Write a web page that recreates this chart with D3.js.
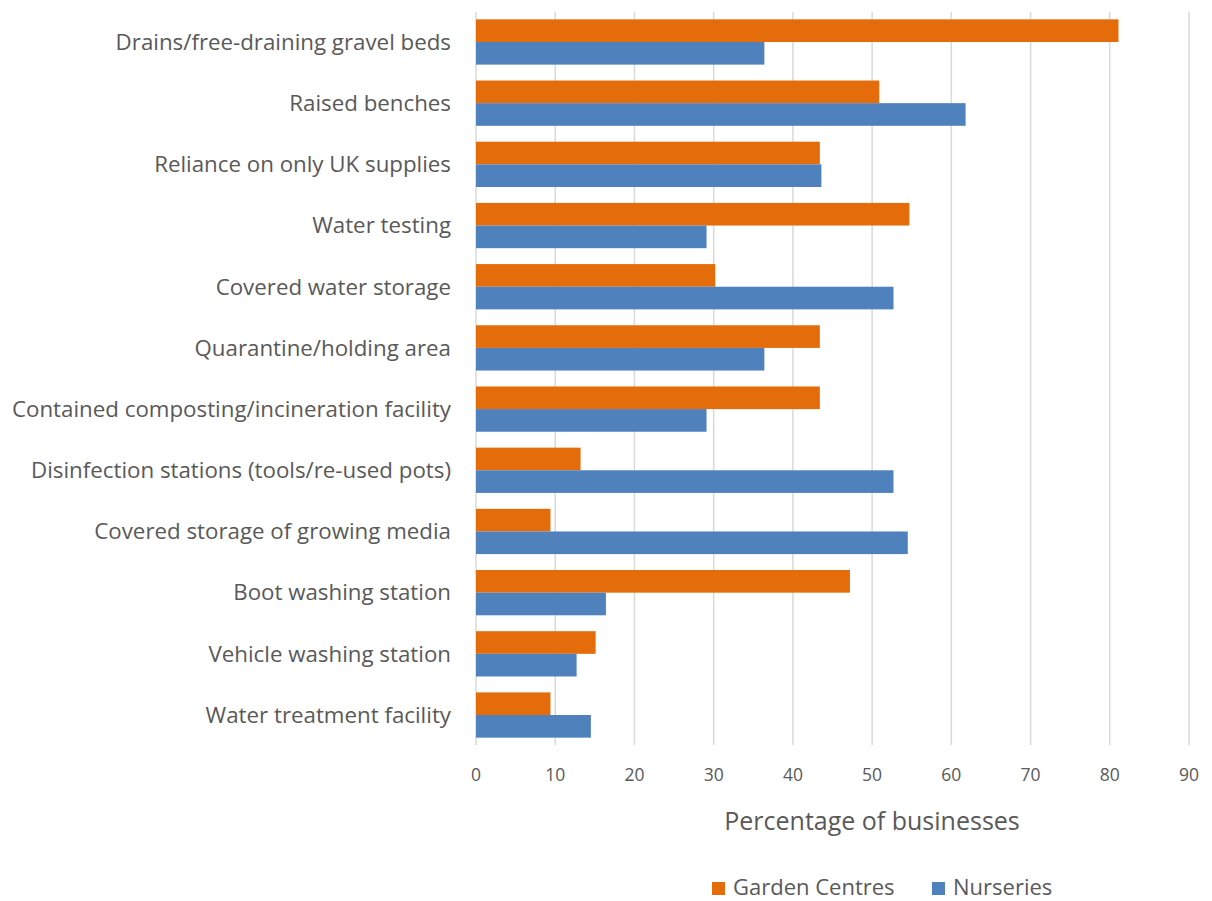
<!DOCTYPE html>
<html><head><meta charset="utf-8">
<script src="https://cdn.jsdelivr.net/npm/d3@7"></script>
<style>body{margin:0;background:#fff;} text{font-family:"Open Sans", sans-serif; fill:#595959;}</style>
</head><body>
<svg id="c" width="1212" height="901"></svg>
<script>
const categories = ["Drains/free-draining gravel beds","Raised benches","Reliance on only UK supplies","Water testing","Covered water storage","Quarantine/holding area","Contained composting/incineration facility","Disinfection stations (tools/re-used pots)","Covered storage of growing media","Boot washing station","Vehicle washing station","Water treatment facility"];
const gardenCentres = [81.1,50.9,43.4,54.7,30.2,43.4,43.4,13.2,9.4,47.2,15.1,9.4];
const nurseries = [36.4,61.8,43.6,29.1,52.7,36.4,29.1,52.7,54.5,16.4,12.7,14.5];
const seriesNames = ["Garden Centres","Nurseries"];
const seriesColors = ["#E46C0A","#4F81BD"];
const xTicks = [0,10,20,30,40,50,60,70,80,90];

const svg = d3.select("#c");
const pLeft = 476, pRight = 1189, pTop = 12, pBottom = 745;
const x = d3.scaleLinear().domain([0,90]).range([pLeft,pRight]);
const y = d3.scaleBand().domain(categories).range([pTop,pBottom]).paddingInner(0.26).paddingOuter(0.12);
const ys = d3.scaleBand().domain(seriesNames).range([0,y.bandwidth()]);

svg.append("g").selectAll("line").data(xTicks).join("line")
  .attr("x1",d=>x(d)).attr("x2",d=>x(d)).attr("y1",pTop).attr("y2",pBottom)
  .attr("stroke","#d9d9d9").attr("stroke-width",1.5);

const data = [gardenCentres, nurseries];
data.forEach((vals,si)=>{
  svg.append("g").selectAll("rect").data(vals).join("rect")
    .attr("x",x(0)).attr("y",(d,i)=>y(categories[i])+ys(seriesNames[si]))
    .attr("width",d=>x(d)-x(0)).attr("height",ys.bandwidth())
    .attr("fill",seriesColors[si]);
});

svg.append("g").selectAll("text").data(categories).join("text")
  .attr("x",451).attr("y",d=>y(d)+y.bandwidth()/2).attr("dy","0.35em")
  .attr("text-anchor","end").style("font-size","22.3px").text(d=>d);

svg.append("g").selectAll("text").data(xTicks).join("text")
  .attr("x",d=>x(d)).attr("y",775).attr("dy","0.35em")
  .attr("text-anchor","middle").style("font-size","17.5px").text(d=>d);

svg.append("text").attr("x",872).attr("y",821).attr("dy","0.35em")
  .attr("text-anchor","middle").style("font-size","25px").text("Percentage of businesses");

const legX = [712, 932];
seriesNames.forEach((n,i)=>{
  svg.append("rect").attr("x",legX[i]).attr("y",882).attr("width",13).attr("height",13).attr("fill",seriesColors[i]);
  svg.append("text").attr("x",legX[i]+21).attr("y",887).attr("dy","0.35em").style("font-size","22px").text(n);
});
</script>
</body></html>
